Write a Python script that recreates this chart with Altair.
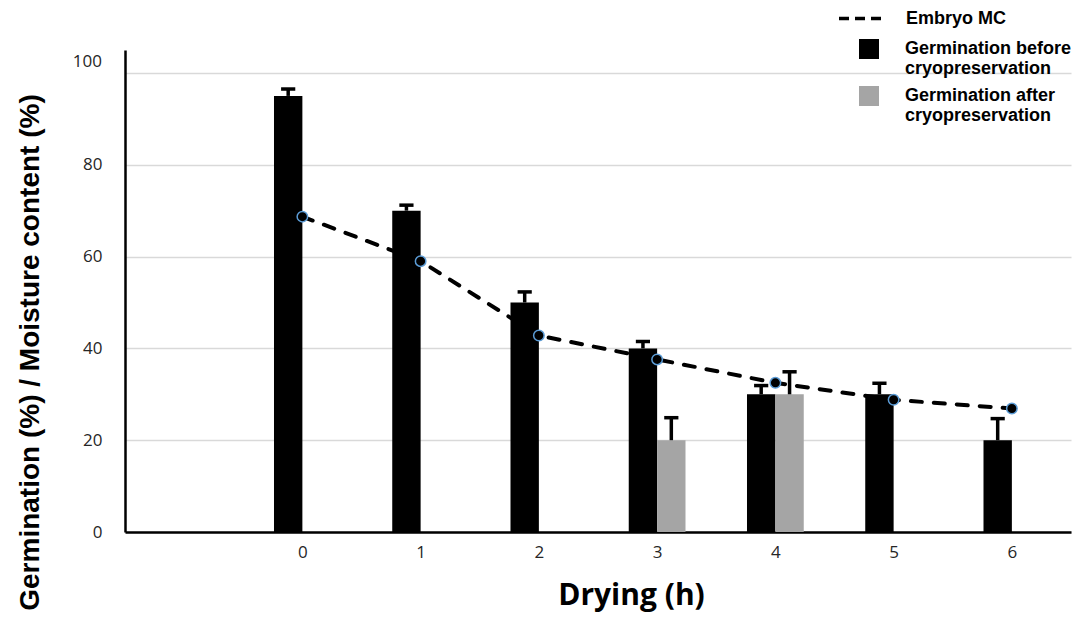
import altair as alt
import pandas as pd

# ---- data ----
hours = [0, 1, 2, 3, 4, 5, 6]
germ_before = [95, 70, 50, 40, 30, 30, 20]
germ_before_err = [1.5, 1.2, 2.3, 1.5, 1.9, 2.4, 4.7]
after_hours = [3, 4]
germ_after = [20, 30]
germ_after_err = [4.9, 4.9]
embryo_mc = [68.7, 59.0, 42.8, 37.6, 32.5, 28.8, 26.9]
y_ticks = [0, 20, 40, 60, 80, 100]

S_BEFORE = "Germination before|cryopreservation"
S_AFTER = "Germination after|cryopreservation"
S_MC = "Embryo MC"

bars_df = pd.DataFrame({
    "hour": hours + after_hours,
    "value": germ_before + germ_after,
    "err": germ_before_err + germ_after_err,
    "series": [S_BEFORE] * len(hours) + [S_AFTER] * len(after_hours),
    "side": [-1] * len(hours) + [1] * len(after_hours),
})
mc_df = pd.DataFrame({"hour": hours, "mc": embryo_mc, "name": [S_MC] * len(hours)})
top_label_df = pd.DataFrame({"v": [y_ticks[-1]], "t": [str(y_ticks[-1])]})

BW = 0.24
CAP = 0.06

xscale = alt.Scale(domain=[-1.5, 6.5], nice=False, zero=False)
yscale = alt.Scale(domain=[0, 105], nice=False, zero=True)

x_axis = alt.Axis(
    values=hours, format="d", grid=False, ticks=False,
    domainColor="black", domainWidth=2.5,
    labelFont="Open Sans", labelFontSize=17, labelColor="#262626", labelPadding=12,
    title="Drying (h)", titleFont="Open Sans", titleFontWeight="bold", titleFontSize=30,
    titleColor="black", titleX=506, titleY=72, titleBaseline="alphabetic", titleAlign="center",
)
y_axis = alt.Axis(
    values=y_ticks, grid=True, gridColor="#d9d9d9", gridWidth=1.5, ticks=False,
    domainColor="black", domainWidth=2.5,
    labelFont="Open Sans", labelFontSize=17, labelColor="#262626", labelPadding=23,
    labelExpr="datum.value == 100 ? '' : datum.label",
    title="Germination (%) / Moisture content (%)", titleFont="Liberation Sans",
    titleFontWeight="bold", titleFontSize=28, titleColor="black",
    titleX=-95, titleY=302, titleAngle=270, titleAlign="center", titleBaseline="middle",
)

base = alt.Chart(bars_df).transform_calculate(
    x0=f"datum.hour + (datum.side < 0 ? -{BW} : 0)",
    x1=f"datum.hour + (datum.side < 0 ? 0 : {BW})",
    xc=f"datum.hour + datum.side * {BW / 2}",
    top="datum.value + datum.err",
).transform_calculate(
    cl=f"datum.xc - {CAP}",
    cr=f"datum.xc + {CAP}",
)

bars = base.mark_rect().encode(
    x=alt.X("x0:Q", scale=xscale, axis=x_axis),
    x2="x1:Q",
    y=alt.Y("value:Q", scale=yscale, axis=y_axis),
    y2=alt.datum(0),
    fill=alt.Fill(
        "series:N",
        scale=alt.Scale(domain=[S_BEFORE, S_AFTER], range=["#000000", "#a5a5a5"]),
        legend=alt.Legend(
            orient="none", legendX=734, legendY=-11, title=None,
            symbolType="square", symbolSize=400, symbolStrokeWidth=0,
            labelExpr="split(datum.label, '|')",
            labelFont="Liberation Sans", labelFontWeight="bold", labelFontSize=18,
            labelColor="black", labelLimit=400, labelOffset=26, rowPadding=8, padding=0,
        ),
    ),
)

stems = base.mark_rule(color="black", strokeWidth=3.5).encode(
    x=alt.X("xc:Q", scale=xscale, axis=x_axis),
    y=alt.Y("value:Q", scale=yscale, axis=y_axis),
    y2="top:Q",
)

caps = base.mark_rule(color="black", strokeWidth=3.5).encode(
    x=alt.X("cl:Q", scale=xscale, axis=x_axis),
    x2="cr:Q",
    y=alt.Y("top:Q", scale=yscale, axis=y_axis),
)

line = alt.Chart(mc_df).mark_line(
    strokeWidth=4, strokeDash=[11, 12], strokeCap="round"
).encode(
    x=alt.X("hour:Q", scale=xscale, axis=x_axis),
    y=alt.Y("mc:Q", scale=yscale, axis=y_axis),
    stroke=alt.Stroke(
        "name:N",
        scale=alt.Scale(domain=[S_MC], range=["black"]),
        legend=alt.Legend(
            orient="none", legendX=712, legendY=-55, title=None,
            symbolType="stroke", symbolSize=1849, symbolStrokeWidth=3.5,
            symbolDash=[10, 6],
            labelFont="Liberation Sans", labelFontWeight="bold", labelFontSize=18,
            labelColor="black", labelLimit=400, labelOffset=22, padding=0,
        ),
    ),
)

points = alt.Chart(mc_df).mark_point(
    shape="circle", filled=True, fill="black", stroke="#5b9bd5",
    strokeWidth=1.5, size=110, opacity=1,
).encode(
    x=alt.X("hour:Q", scale=xscale, axis=x_axis),
    y=alt.Y("mc:Q", scale=yscale, axis=y_axis),
)

top_label = alt.Chart(top_label_df).mark_text(
    align="right", baseline="middle", dx=-23, dy=-11,
    font="Open Sans", fontSize=17, color="#262626",
).encode(
    x=alt.value(0),
    y=alt.Y("v:Q", scale=yscale, axis=y_axis),
    text="t:N",
)

chart = alt.layer(bars, stems, caps, line, points, top_label).properties(
    width=946, height=482,
    autosize=alt.AutoSizeParams(type="none"),
    padding={"left": 117, "top": 42, "right": 4, "bottom": 80},
).configure_view(stroke=None)

chart.save("out.html", embed_options={"renderer": "svg", "actions": False})
